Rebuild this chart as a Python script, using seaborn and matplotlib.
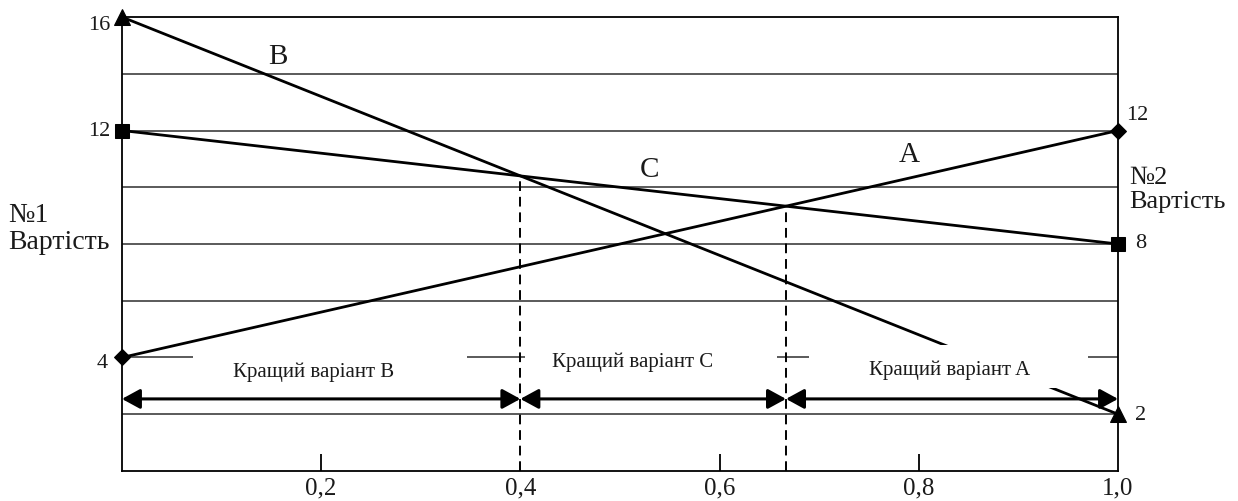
import numpy as np
import pandas as pd
import seaborn as sns
import matplotlib.pyplot as plt
from matplotlib.patches import Rectangle

# probability of the state (x axis) and cost of each variant at both ends
p = [0.0, 1.0]
cost_a = [4, 12]
cost_b = [16, 2]
cost_c = [12, 8]
variants = ["A", "B", "C"]
x_ticks = [0.2, 0.4, 0.6, 0.8, 1.0]
x_labels = ["0,2", "0,4", "0,6", "0,8", "1,0"]
best_labels = ["Кращий варіант B", "Кращий варіант C", "Кращий варіант A"]

sns.set_theme(style="white", rc={"text.color": "k", "xtick.color": "k",
                                 "axes.edgecolor": "k", "xtick.bottom": True})
plt.rcParams['font.family'] = ['Liberation Serif', 'DejaVu Serif']

df = pd.DataFrame({
    "p": p * 3,
    "cost": cost_a + cost_b + cost_c,
    "variant": [v for v in variants for _ in p],
})

fig = plt.figure(figsize=(12.38, 5.02), dpi=100)
ax = fig.add_axes([0.0985, 0.0598, 0.8046, 0.9043])

sns.lineplot(data=df, x="p", y="cost", hue="variant", style="variant",
             palette={"A": "black", "B": "black", "C": "black"},
             markers={"A": "D", "B": "^", "C": "s"}, dashes=False,
             linewidth=2.0, markeredgecolor="black", legend=False, ax=ax, zorder=3)
msizes = {"D": 7.8, "^": 11.5, "s": 10.5}
for ln in ax.lines:
    ln.set_clip_on(False)
    ln.set_color("black")
    ln.set_markerfacecolor("black")
    ln.set_markersize(msizes.get(ln.get_marker(), 10))

ax.set_xlim(0, 1)
ax.set_ylim(0, 16)
ax.set_xlabel("")
ax.set_ylabel("")

# horizontal grid
ax.set_yticks(np.arange(2, 16, 2))
ax.set_yticklabels([])
ax.tick_params(axis="y", length=0, left=False)
ax.grid(axis="y", color="#4d4d4d", linewidth=1.3)
ax.grid(axis="x", visible=False)
for s in ax.spines.values():
    s.set_color("black")
    s.set_linewidth(1.3)

ax.set_xticks(x_ticks)
ax.set_xticklabels(x_labels, fontsize=18)
ax.tick_params(axis="x", bottom=True, direction="in", length=12, width=1.3,
               color="black", pad=4)
for t in ax.xaxis.get_major_ticks():
    if abs(t.get_loc() - 0.4) < 1e-6 or abs(t.get_loc() - 1.0) < 1e-6:
        t.tick1line.set_visible(False)

# break-even points
a = np.polyfit(p, cost_a, 1)
b = np.polyfit(p, cost_b, 1)
c = np.polyfit(p, cost_c, 1)
x_bc = (c[1] - b[1]) / (b[0] - c[0])
x_ac = (c[1] - a[1]) / (a[0] - c[0])
for xx, coef in [(x_bc, c), (x_ac, c)]:
    ax.plot([xx, xx], [0, np.polyval(coef, xx)], color="black", lw=1.4,
            linestyle=(0, (5, 3)), zorder=2)

# white boxes behind the "best variant" captions
bounds = [0.0, x_bc, x_ac, 1.0]
boxes = [(0.071, 0.346, 2.9, 4.45), (0.405, 0.658, 2.9, 4.45), (0.69, 0.97, 2.93, 4.45)]
for x0, x1, y0, y1 in boxes:
    ax.add_patch(Rectangle((x0, y0), x1 - x0, y1 - y0, facecolor="white",
                           edgecolor="none", zorder=4))
text_pos = [(0.192, 3.52), (0.513, 3.88), (0.831, 3.6)]
for (tx, ty), lab in zip(text_pos, best_labels):
    ax.text(tx, ty, lab, fontsize=15, ha="center", va="center", zorder=5)

for i in range(3):
    ax.annotate("", xy=(bounds[i + 1], 2.54), xytext=(bounds[i], 2.54),
                arrowprops=dict(arrowstyle="<|-|>,head_length=0.55,head_width=0.3",
                                color="black", lw=2.2, mutation_scale=20,
                                shrinkA=0, shrinkB=0), zorder=6)

# variant letters
ax.text(0.157, 14.63, "B", fontsize=21, ha="center", va="center")
ax.text(0.53, 10.64, "C", fontsize=21, ha="center", va="center")
ax.text(0.79, 11.17, "A", fontsize=21, ha="center", va="center")

# end values
ax.annotate(str(cost_b[0]), (0, cost_b[0]), xytext=(-12, -7), textcoords="offset pixels",
            ha="right", va="center", fontsize=16, annotation_clip=False)
ax.annotate(str(cost_c[0]), (0, cost_c[0]), xytext=(-12, 0), textcoords="offset pixels",
            ha="right", va="center", fontsize=16, annotation_clip=False)
ax.annotate(str(cost_a[0]), (0, cost_a[0]), xytext=(-14, -5), textcoords="offset pixels",
            ha="right", va="center", fontsize=16, annotation_clip=False)
ax.annotate(str(cost_a[1]), (1, cost_a[1]), xytext=(8, 16), textcoords="offset pixels",
            ha="left", va="center", fontsize=16, annotation_clip=False)
ax.annotate(str(cost_c[1]), (1, cost_c[1]), xytext=(17, 2), textcoords="offset pixels",
            ha="left", va="center", fontsize=16, annotation_clip=False)
ax.annotate(str(cost_b[1]), (1, cost_b[1]), xytext=(17, 0), textcoords="offset pixels",
            ha="left", va="center", fontsize=16, annotation_clip=False)

fig.text(8 / 1238, 1 - 229 / 502, "№1\nВартість", fontsize=20, ha="left",
         va="center", linespacing=1.15)
fig.text(1129 / 1238, 1 - 190 / 502, "№2\nВартість", fontsize=19, ha="left",
         va="center", linespacing=1.15)

fig.savefig("out.png", dpi=100)
